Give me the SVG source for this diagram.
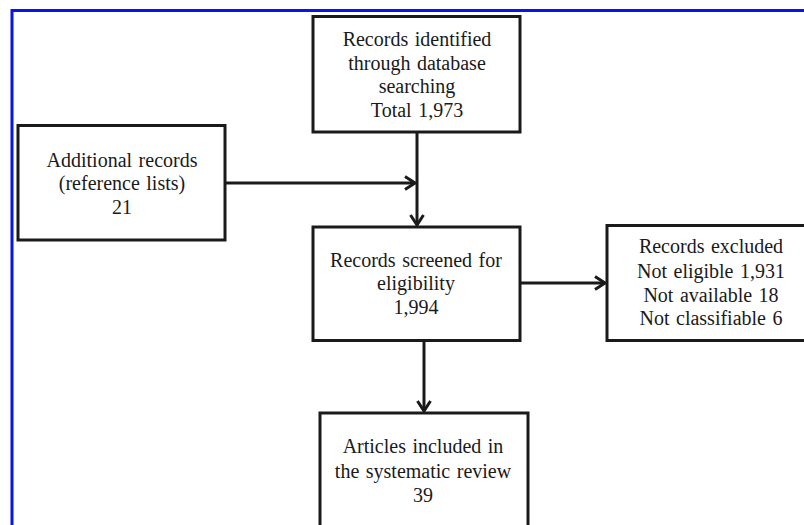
<svg xmlns="http://www.w3.org/2000/svg" width="804" height="525" viewBox="0 0 804 525">
<defs>
<style>
.box{fill:#ffffff;stroke:#1a1a1a;stroke-width:3}
.edge{fill:none;stroke:#1a1a1a;stroke-width:3}
.t{font-family:"Liberation Serif","Times New Roman",serif;font-size:20px;word-spacing:1.5px;fill:#1a1a1a;text-anchor:middle}
.frame{stroke:#0a14e6;stroke-width:3;fill:none}
</style>
<marker id="arr" viewBox="0 0 14 16" refX="12" refY="8" markerWidth="14" markerHeight="16" markerUnits="userSpaceOnUse" orient="auto">
<path d="M2,1.5 L12,8 L2,14.5" fill="none" stroke="#1a1a1a" stroke-width="3"/>
</marker>
</defs>
<rect width="804" height="525" fill="#ffffff"/>
<path class="frame" d="M12,525 V10.5 H804"/>
<g id="connectors">
<path class="edge" d="M417,132 V225" marker-end="url(#arr)"/>
<path class="edge" d="M225,183 H415" marker-end="url(#arr)"/>
<path class="edge" d="M520,283 H605" marker-end="url(#arr)"/>
<path class="edge" d="M424,341 V411" marker-end="url(#arr)"/>
</g>
<g id="identified">
<rect class="box" x="313" y="16.5" width="207" height="115.5"/>
<text class="t" x="417" y="46">Records identified</text>
<text class="t" x="417" y="70">through database</text>
<text class="t" x="417" y="93">searching</text>
<text class="t" x="417" y="117">Total 1,973</text>
</g>
<g id="additional">
<rect class="box" x="18" y="125.5" width="207" height="114.5"/>
<text class="t" x="122" y="167">Additional records</text>
<text class="t" x="122" y="190">(reference lists)</text>
<text class="t" x="122" y="214">21</text>
</g>
<g id="screened">
<rect class="box" x="313" y="227" width="207" height="113.5"/>
<text class="t" x="416" y="267">Records screened for</text>
<text class="t" x="416" y="290">eligibility</text>
<text class="t" x="416" y="314">1,994</text>
</g>
<g id="excluded">
<rect class="box" x="607" y="225.5" width="200" height="115"/>
<text class="t" x="711" y="253">Records excluded</text>
<text class="t" x="711" y="278">Not eligible 1,931</text>
<text class="t" x="711" y="302">Not available 18</text>
<text class="t" x="711" y="325">Not classifiable 6</text>
</g>
<g id="included">
<rect class="box" x="320" y="413" width="208" height="120"/>
<text class="t" x="423" y="453">Articles included in</text>
<text class="t" x="423" y="478">the systematic review</text>
<text class="t" x="423" y="502">39</text>
</g>
</svg>
